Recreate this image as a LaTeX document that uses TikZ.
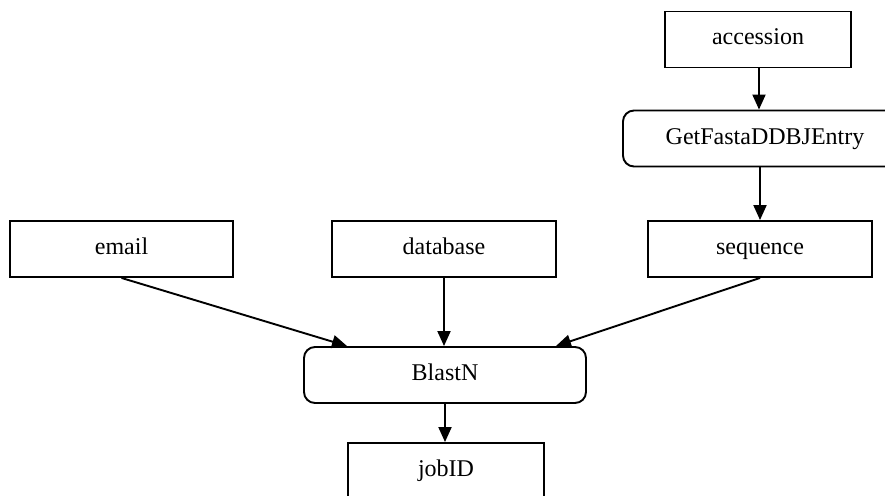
\documentclass[tikz,border=0pt]{standalone}
\usepackage{fontspec}
\setmainfont{Liberation Serif}
\usetikzlibrary{arrows.meta,calc}
\tikzset{
  databox/.style={draw, line width=1.9pt, rectangle, minimum height=56pt,
    inner sep=0pt, text height=16pt, text depth=5pt,
    font=\fontsize{24}{28}\selectfont},
  procbox/.style={databox, rounded corners=11pt},
  flow/.style={line width=1.9pt, -{Triangle[length=15pt,width=13pt]}}
}
\begin{document}
\begin{tikzpicture}[x=1pt,y=-1pt]
  \useasboundingbox (0,0) rectangle (885,495);
  \clip (0,0) rectangle (885,495);

  % inputs and services
  \node[databox, minimum width=186pt] (accession) at (758,39.5) {accession};
  \node[procbox, minimum width=284pt] (getfasta) at (765,138.5) {GetFastaDDBJEntry};
  \node[databox, minimum width=224pt] (sequence) at (760,249) {sequence};
  \node[databox, minimum width=223pt] (email) at (121.5,249) {email};
  \node[databox, minimum width=224pt] (database) at (444,249) {database};
  \node[procbox, minimum width=282pt] (blastn) at (445,375) {BlastN};
  \node[databox, minimum width=196pt] (jobid) at (446,471) {jobID};

  % landing points on the BlastN box
  \coordinate (inEmail) at ($(blastn.north west)+(44,0)$);
  \coordinate (inSeq) at ($(blastn.north east)+(-31,0)$);

  % data flow
  \draw[flow] (accession.south -| 759,0) -- (759,0 |- getfasta.north);
  \draw[flow] (getfasta.south -| 760,0) -- (sequence.north);
  \draw[flow] (email.south) -- (inEmail);
  \draw[flow] (database.south) -- (database.south |- blastn.north);
  \draw[flow] (sequence.south) -- (inSeq);
  \draw[flow] (blastn.south) -- (blastn.south |- jobid.north);
\end{tikzpicture}
\end{document}
